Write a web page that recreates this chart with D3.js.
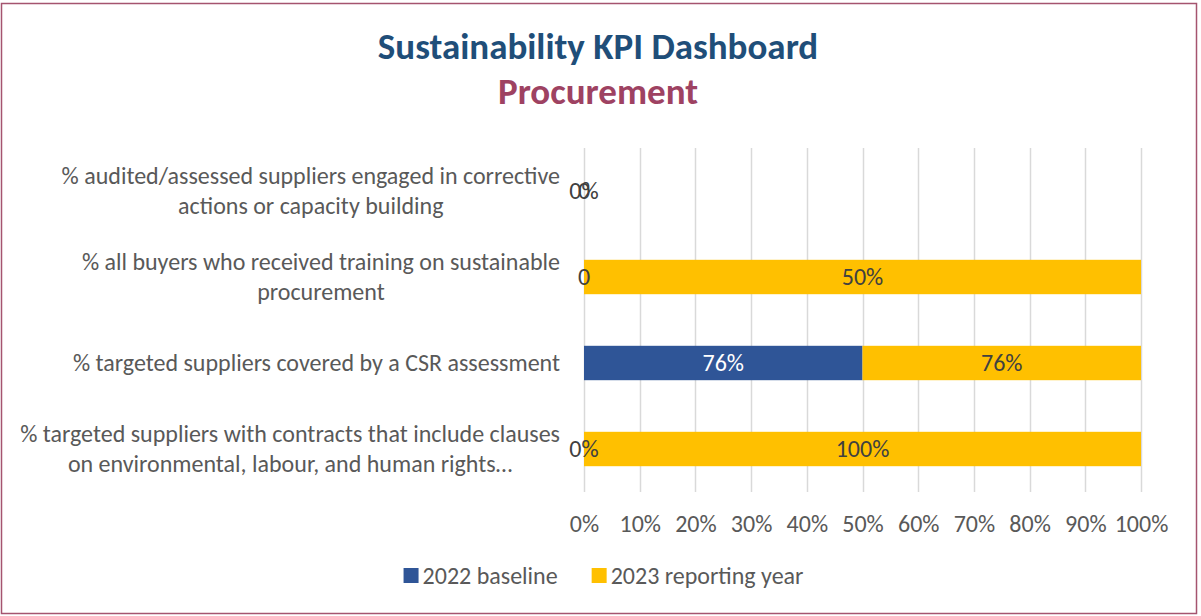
<!DOCTYPE html>
<html>
<head>
<meta charset="utf-8">
<script src="https://cdn.jsdelivr.net/npm/d3@7"></script>
<style>
  body { margin: 0; background: #fff; }
  svg { display: block; font-family: Carlito, Calibri, Lato, sans-serif; }
</style>
</head>
<body>
<svg id="chart_svg"></svg>
<script>
// chart data
var categories = [
  "% audited/assessed suppliers engaged in corrective actions or capacity building",
  "% all buyers who received training on sustainable procurement",
  "% targeted suppliers covered by a CSR assessment",
  "% targeted suppliers with contracts that include clauses on environmental, labour, and human rights\u2026"
];
var seriesNames = ["2022 baseline", "2023 reporting year"];
var baseline = [0, 0, 0.76, 0];
var reporting = [0, 0.5, 0.76, 1];
var baselineLabels = ["0%", "0", "76%", "0%"];
var reportingLabels = ["0", "50%", "76%", "100%"];
var tickValues = [0, 0.1, 0.2, 0.3, 0.4, 0.5, 0.6, 0.7, 0.8, 0.9, 1];

var colors = ["#2F5597", "#FFC000"];

var W = 1201, H = 616;
var margin = {top: 148, right: 60, bottom: 124, left: 584};
var width = 1141 - margin.left,
    height = 492 - margin.top;
var fs = "24px";

var svg = d3.select("#chart_svg")
  .attr("width", W)
  .attr("height", H);

// outer border
svg.append("rect")
  .attr("x", 1.5).attr("y", 3.5)
  .attr("width", 1195).attr("height", 610)
  .attr("fill", "none")
  .attr("stroke", "#A5546F")
  .attr("stroke-width", 1.5);

// titles
svg.append("text")
  .attr("x", 598).attr("y", 59)
  .attr("text-anchor", "middle")
  .style("font-size", "37px")
  .style("font-weight", "bold")
  .attr("fill", "#1F4E79")
  .text("Sustainability KPI Dashboard");

svg.append("text")
  .attr("x", 598).attr("y", 104)
  .attr("text-anchor", "middle")
  .style("font-size", "37px")
  .style("font-weight", "bold")
  .attr("fill", "#9E4262")
  .text("Procurement");

var g = svg.append("g")
  .attr("transform", "translate(" + margin.left + "," + margin.top + ")");

var x = d3.scaleLinear().domain([0, 1]).range([0, width]);
var y = d3.scaleBand().domain(d3.range(categories.length)).range([0, height])
  .paddingInner(0.6).paddingOuter(0.3);

// gridlines
g.selectAll(".grid")
  .data(tickValues)
  .enter().append("line")
  .attr("x1", function(d) { return Math.round(x(d)) + 0.5; })
  .attr("x2", function(d) { return Math.round(x(d)) + 0.5; })
  .attr("y1", 0)
  .attr("y2", height)
  .attr("stroke", "#D9D9D9")
  .attr("stroke-width", 1.5);

// x axis labels
var xAxis = g.append("g")
  .attr("transform", "translate(0," + height + ")")
  .call(d3.axisBottom(x).tickValues(tickValues).tickFormat(d3.format(".0%")).tickSize(0).tickPadding(23));
xAxis.select(".domain").remove();
xAxis.selectAll("text")
  .attr("fill", "#595959")
  .style("font-size", fs)
  .style("font-family", "Carlito, Calibri, Lato, sans-serif");

// stacked rows, each row as a share of its total
var rows = categories.map(function(c, i) {
  var total = baseline[i] + reporting[i];
  var b = total ? baseline[i] / total : 0;
  var r = total ? reporting[i] / total : 0;
  return [
    {i: i, s: 0, x0: 0, x1: b, label: baselineLabels[i]},
    {i: i, s: 1, x0: b, x1: b + r, label: reportingLabels[i]}
  ];
});
var segs = d3.merge(rows);

g.selectAll(".bar")
  .data(segs)
  .enter().append("rect")
  .attr("class", "bar")
  .attr("x", function(d) { return x(d.x0); })
  .attr("y", function(d) { return y(d.i); })
  .attr("width", function(d) { return x(d.x1) - x(d.x0); })
  .attr("height", y.bandwidth())
  .attr("fill", function(d) { return colors[d.s]; });

g.selectAll(".lbl")
  .data(segs)
  .enter().append("text")
  .attr("class", "lbl")
  .attr("x", function(d) { return (x(d.x0) + x(d.x1)) / 2; })
  .attr("y", function(d) { return y(d.i) + y.bandwidth() / 2; })
  .attr("dy", "0.35em")
  .attr("text-anchor", "middle")
  .style("font-size", fs)
  .attr("fill", function(d) { return d.s === 0 && d.x1 > d.x0 ? "#fff" : "#404040"; })
  .text(function(d) { return d.label; });

// category labels, wrapped and centred
var lineH = 30, maxW = 552;
categories.forEach(function(c, i) {
  var t = svg.append("text")
    .attr("text-anchor", "middle")
    .style("font-size", fs)
    .attr("fill", "#595959");
  var words = c.split(" "), lines = [], cur = "";
  var probe = t.append("tspan");
  words.forEach(function(w) {
    var test = cur ? cur + " " + w : w;
    probe.text(test);
    if (probe.node().getComputedTextLength() > maxW && cur) {
      lines.push(cur);
      cur = w;
    } else {
      cur = test;
    }
  });
  lines.push(cur);
  probe.remove();
  var widest = 0;
  lines.forEach(function(l) {
    probe = t.append("tspan").text(l);
    widest = Math.max(widest, probe.node().getComputedTextLength());
    probe.remove();
  });
  var cx = 560 - widest / 2;
  var cy = margin.top + y(i) + y.bandwidth() / 2 - (lines.length - 1) * lineH / 2;
  lines.forEach(function(l, k) {
    t.append("tspan")
      .attr("x", cx)
      .attr("y", cy + k * lineH)
      .attr("dy", "0.35em")
      .text(l);
  });
});

// legend
var legend = svg.append("g");
var lx = 0;
seriesNames.forEach(function(n, i) {
  var item = legend.append("g").attr("transform", "translate(" + lx + ",0)");
  item.append("rect")
    .attr("x", 0).attr("y", -8)
    .attr("width", 15).attr("height", 15)
    .attr("fill", colors[i]);
  var tx = item.append("text")
    .attr("x", 19).attr("y", 0)
    .attr("dy", "0.35em")
    .style("font-size", fs)
    .attr("fill", "#595959")
    .text(n);
  lx += 19 + tx.node().getComputedTextLength() + 34;
});
lx -= 34;
legend.attr("transform", "translate(" + (603.5 - lx / 2) + ",576)");
</script>
</body>
</html>
